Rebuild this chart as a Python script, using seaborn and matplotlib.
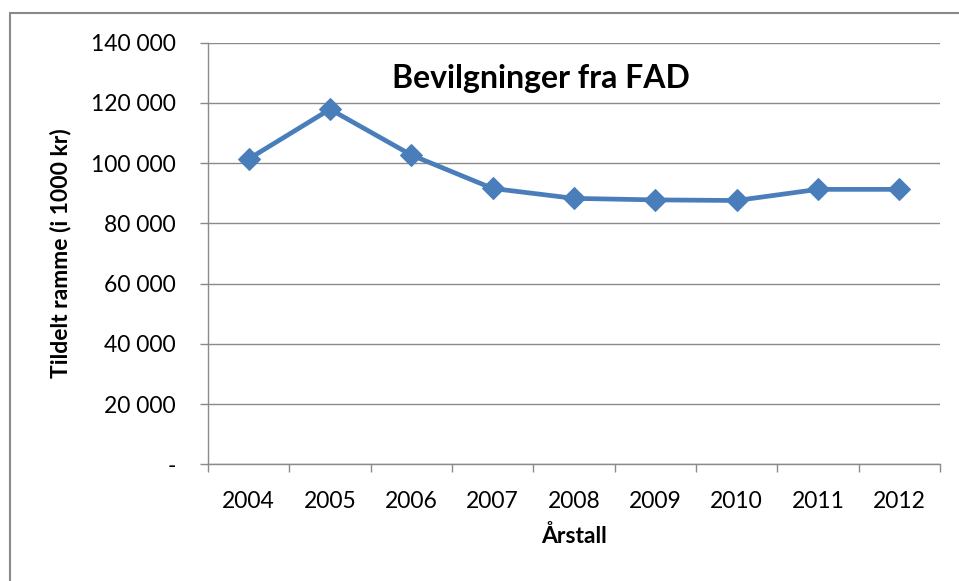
import numpy as np
import pandas as pd
import seaborn as sns
import matplotlib.pyplot as plt
from matplotlib.ticker import FuncFormatter, FixedLocator

years = ["2004", "2005", "2006", "2007", "2008", "2009", "2010", "2011", "2012"]
bevilgning = [101400, 117900, 102700, 91600, 88300, 87800, 87600, 91300, 91300]
y_ticks = [0, 20000, 40000, 60000, 80000, 100000, 120000, 140000]

df = pd.DataFrame({"year": years, "value": bevilgning})
df["pos"] = np.arange(len(years))

sns.set_theme(style="white")
plt.rcParams["font.family"] = ["Lato", "DejaVu Sans"]
plt.rcParams["text.color"] = "black"
plt.rcParams["axes.labelcolor"] = "black"

GRID = "#8a8a8a"
LINE = "#4a7ebb"

fig = plt.figure(figsize=(9.59, 5.81), dpi=100)
ax = fig.add_axes([0.2169, 0.2009, 0.9802 - 0.2169, 0.9265 - 0.2009])

sns.lineplot(data=df, x="pos", y="value", ax=ax, color=LINE, linewidth=3.4,
             marker="D", markersize=11.5, markeredgecolor=LINE, legend=False)

ax.set_xlim(-0.5, len(years) - 0.5)
ax.set_ylim(0, 140000)

# category labels in the middle, tick marks on the boundaries
ax.xaxis.set_major_locator(FixedLocator(df["pos"].tolist()))
ax.set_xticklabels(years)
ax.xaxis.set_minor_locator(FixedLocator(np.arange(-0.5, len(years), 1.0)))
ax.tick_params(axis="x", which="major", length=0, pad=19, labelsize=16.5, colors="black")
ax.tick_params(axis="x", which="minor", length=6, width=1, color=GRID, direction="out", bottom=True)

ax.set_yticks(y_ticks)
ax.yaxis.set_major_formatter(FuncFormatter(
    lambda v, p: "-" if v == 0 else f"{int(v):,}".replace(",", " ")))
ax.tick_params(axis="y", length=6, width=1, color=GRID, direction="out", left=True,
               pad=17, labelsize=16.5, labelcolor="black")

ax.grid(axis="y", color=GRID, linewidth=1)
ax.set_axisbelow(True)
for side in ["top", "right"]:
    ax.spines[side].set_visible(False)
for side in ["left", "bottom"]:
    ax.spines[side].set_color(GRID)
    ax.spines[side].set_linewidth(1)

ax.set_xlabel("Årstall", fontsize=16.5, fontweight="bold")
ax.set_ylabel("Tildelt ramme (i 1000 kr)", fontsize=16.5, fontweight="bold")
ax.xaxis.set_label_coords(0.5, -0.144)
ax.yaxis.set_label_coords(-0.186, 0.5)
ax.text(0.455, 0.916, "Bevilgninger fra FAD", transform=ax.transAxes,
        ha="center", va="center", fontsize=23, fontweight="bold", color="black")

# chart border (left and top edges visible)
fig.add_artist(plt.Line2D([10 / 959, 10 / 959], [0, 1 - 13 / 581], color=GRID, lw=1.5,
                          transform=fig.transFigure))
fig.add_artist(plt.Line2D([10 / 959, 1], [1 - 13 / 581, 1 - 13 / 581], color=GRID, lw=1.5,
                          transform=fig.transFigure))

fig.savefig("out.png", dpi=100)
